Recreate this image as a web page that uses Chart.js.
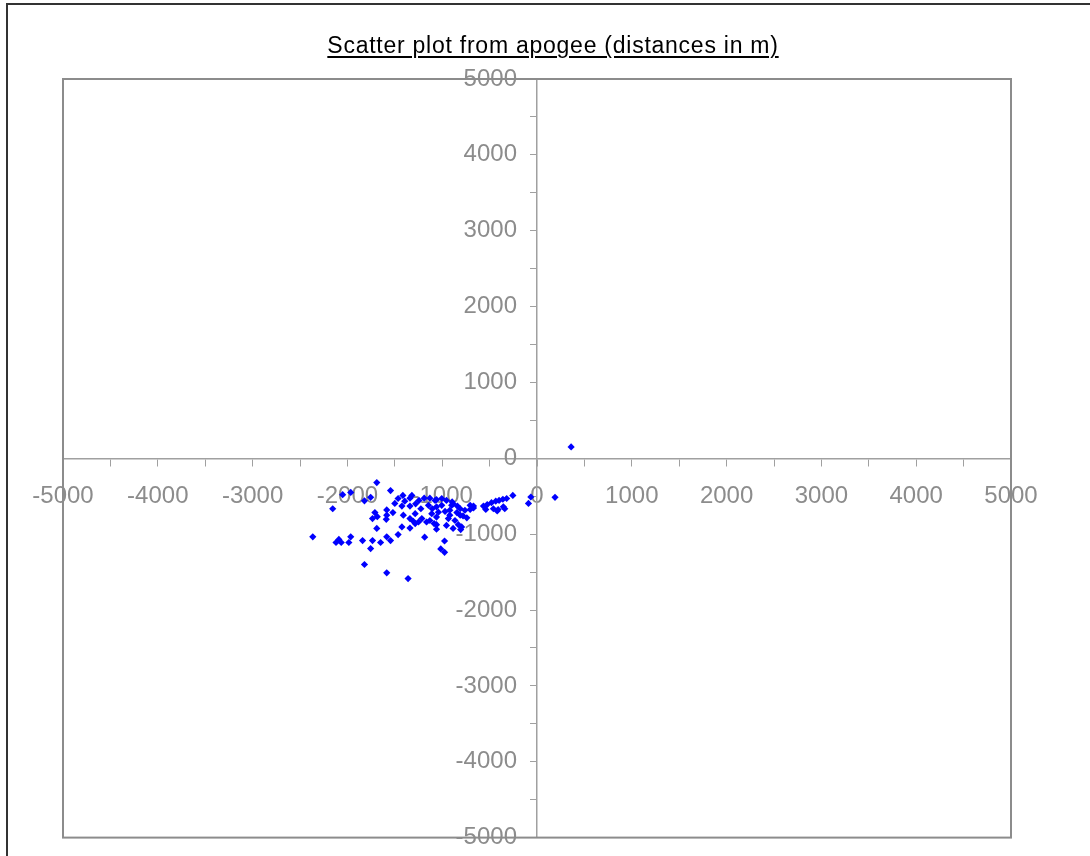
<!DOCTYPE html>
<html>
<head>
<meta charset="utf-8">
<script src="https://cdn.jsdelivr.net/npm/chart.js@4"></script>
<style>
  html, body { margin: 0; padding: 0; background: #fff; overflow: hidden; }
  #frame { position: absolute; left: 6px; top: 3px; width: 1100px; height: 900px; border: 2px solid #333; }
  /* a bit taller than the window: the chart keeps ~31px under the plot for the centred axes */
  #wrap { position: absolute; left: 0; top: 0; width: 1090px; height: 868px; }
  #title {
    position: absolute; left: 0; width: 1106px; top: 32px; text-align: center;
    font-family: "Liberation Sans", Arial, sans-serif; font-size: 23px; line-height: 26px;
    letter-spacing: 0.75px; color: #000;
    text-decoration: underline; text-decoration-thickness: 2px; text-underline-offset: 3px;
  }
</style>
</head>
<body>
<div id="frame"></div>
<div id="wrap"><canvas id="myChart"></canvas></div>
<div id="title">Scatter plot from apogee (distances in m)</div>
<script>
// distances from apogee (m)
const eastM = [
  -1690, -2050, -1965, -1820, -1755, -1545, -2155, -1465, -1500, -1710,
  -1685, -1735, -1585, -1520, -1585, -1590, -1690, -2365, -2090, -2120,
  -2065, -1965, -1985, -1840, -1735, -1755, -1650, -1585, -1545, -1465,
  -1820, -1585, -1360, -1425, -1340, -1340, -1280, -1245, -1190, -1130,
  -1145, -1105, -1060, -1005, -970, -1040, -1340, -1305, -1250, -1215,
  -1165, -1130, -1060, -935, -1425, -1340, -955, -920, -900, -1185,
  -975, -1015, -975, -1060, -1060, -955, -1415, -885, -840, -810,
  -760, -705, -670, -845, -780, -740, -865, -830, -795, -565,
  -525, -480, -435, -400, -360, -460, -410, -355, -540, -320,
  -255, -340, -420, -65, -90, 190, 360, -670, -705, -805,
  -895, -810, -1285, -1085, -1320, -1395, -1225, -1075, -1005, -920,
  -1110, -1285, -1410, -1060, -885
];
const northM = [
  -320, -480, -450, -560, -515, -425, -665, -530, -595, -715,
  -770, -795, -680, -715, -750, -805, -925, -1035, -1070, -1110,
  -1110, -1035, -1110, -1085, -1085, -1190, -1110, -1035, -1085, -1005,
  -1400, -1510, -1585, -630, -525, -630, -600, -555, -525, -525,
  -620, -665, -640, -620, -700, -710, -795, -830, -840, -795,
  -840, -820, -875, -795, -905, -920, -885, -750, -620, -1040,
  -1090, -1195, -1240, -935, -545, -555, -490, -600, -630, -665,
  -685, -675, -655, -715, -760, -785, -820, -875, -905, -630,
  -610, -585, -565, -555, -540, -665, -675, -640, -675, -530,
  -490, -665, -695, -510, -595, -515, 150, -630, -620, -940,
  -575, -750, -860, -860, -490, -565, -665, -555, -530, -685,
  -730, -730, -750, -775, -925
];
const axisMin = -5000;
const axisMax = 5000;
const majorStep = 1000;
const minorStep = 500;

const points = eastM.map(function (e, i) {
    return { x: e, y: northM[i] };
});

const plotFrame = {
    id: 'plotFrame',
    beforeDatasetsDraw: function (chart) {
        const a = chart.chartArea;
        const ctx = chart.ctx;
        ctx.save();
        ctx.strokeStyle = '#8c8c8c';
        ctx.lineWidth = 2;
        ctx.strokeRect(a.left, a.top, a.right - a.left, a.bottom - a.top);
        ctx.restore();
    }
};

function xLabel(value) {
    return value % majorStep === 0 ? String(value) : '';
}
// the centred y axis puts its labels right on the line, the spaces push them off it
function yLabel(value) {
    return value % majorStep === 0 ? String(value) + '   ' : '';
}

const tickFont = { family: '"Liberation Sans", Arial, sans-serif', size: 24 };

const ctx = document.getElementById('myChart').getContext('2d');
const myChart = new Chart(ctx, {
    type: 'scatter',
    data: {
        datasets: [{
            label: 'apogee',
            data: points,
            backgroundColor: '#0000ff',
            borderWidth: 0,
            pointStyle: 'rectRot',
            pointRadius: 3.6,
            pointHoverRadius: 3.6
        }]
    },
    options: {
        responsive: true,
        maintainAspectRatio: false,
        animation: false,
        layout: { padding: { left: 63, right: 79, top: 79, bottom: 7 } },
        plugins: {
            legend: { display: false },
            tooltip: { enabled: false },
            title: { display: false }
        },
        scales: {
            x: {
                type: 'linear',
                position: { y: 0 },
                min: axisMin,
                max: axisMax,
                grid: { drawOnChartArea: false, drawTicks: true, tickLength: 7, color: '#a0a0a0' },
                border: { display: true, color: '#a0a0a0', width: 1.5 },
                ticks: {
                    stepSize: minorStep,
                    autoSkip: false,
                    maxRotation: 0,
                    padding: 17,
                    color: '#8c8c8c',
                    font: tickFont,
                    callback: xLabel
                }
            },
            y: {
                type: 'linear',
                position: { x: 0 },
                min: axisMin,
                max: axisMax,
                grid: { drawOnChartArea: false, drawTicks: true, tickLength: 6, color: '#a0a0a0' },
                border: { display: true, color: '#a0a0a0', width: 1.5 },
                ticks: {
                    stepSize: minorStep,
                    autoSkip: false,
                    padding: 16,
                    color: '#8c8c8c',
                    font: tickFont,
                    callback: yLabel
                }
            }
        }
    },
    plugins: [plotFrame]
});
</script>
</body>
</html>
